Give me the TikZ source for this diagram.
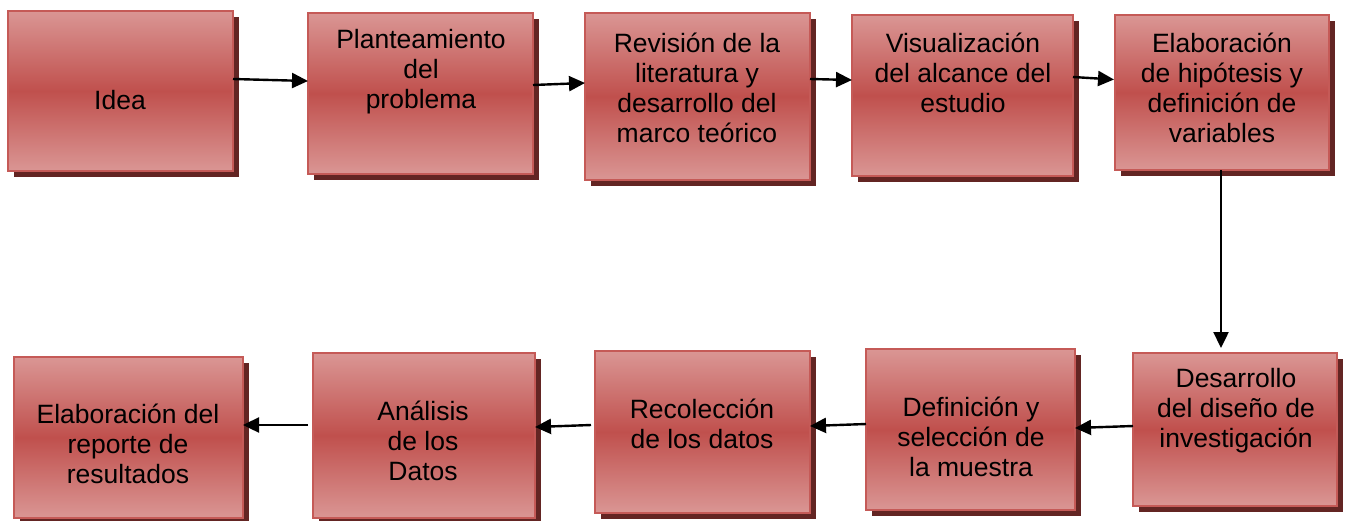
\documentclass[tikz,border=0pt]{standalone}
\usepackage{fontspec}
\setmainfont{Liberation Sans}
\usetikzlibrary{arrows.meta,shadows}
\definecolor{boxdark}{HTML}{C0504D}
\definecolor{boxlight}{HTML}{DA9694}
\definecolor{boxborder}{HTML}{C55A57}
\definecolor{boxshadow}{HTML}{632523}
\tikzset{
  stepbox/.style={draw=boxborder, line width=1.6pt, top color=boxlight, bottom color=boxlight, middle color=boxdark,
    drop shadow={shadow xshift=6pt, shadow yshift=-6pt, fill=boxshadow, opacity=1},
    inner sep=0pt, outer sep=0pt},
  txt/.style={align=center, inner sep=0pt, font=\fontsize{26.5}{30}\selectfont, text=black},
  conn/.style={line width=2.4pt, -{Triangle[length=16pt,width=15pt]}}
}
\begin{document}
\begin{tikzpicture}[x=1pt,y=-1pt]
\useasboundingbox (0,0) rectangle (1347,520);
% boxes
\node[stepbox, minimum width=225pt, minimum height=160pt] (b1) at (120.5,91) {};
\node[stepbox, minimum width=225pt, minimum height=161pt] (b2) at (420.5,93.5) {};
\node[stepbox, minimum width=225pt, minimum height=167pt] (b3) at (697.5,96.5) {};
\node[stepbox, minimum width=221pt, minimum height=161pt] (b4) at (962.5,95.5) {};
\node[stepbox, minimum width=214pt, minimum height=155pt] (b5) at (1222,92.5) {};
\node[stepbox, minimum width=204pt, minimum height=153pt] (b6) at (1235,429.5) {};
\node[stepbox, minimum width=209pt, minimum height=161pt] (b7) at (970.5,429.5) {};
\node[stepbox, minimum width=215pt, minimum height=162pt] (b8) at (702.5,432) {};
\node[stepbox, minimum width=222pt, minimum height=165pt] (b9) at (424,435.5) {};
\node[stepbox, minimum width=229pt, minimum height=161pt] (b10) at (128.5,437.5) {};
% texts
\node[txt] (t1) at (120,100) {Idea};
\node[txt] (t2) at (421,72) {Planteamiento\\del\\problema};
\node[txt] (t3) at (697,88) {Revisión de la\\literatura y\\desarrollo del\\marco teórico};
\node[txt] (t4) at (963,73) {Visualización\\del alcance del\\estudio};
\node[txt] (t5) at (1222,88) {Elaboración\\de hipótesis y\\definición de\\variables};
\node[txt] (t6) at (1236,411) {Desarrollo\\del diseño de\\investigación};
\node[txt] (t7) at (971,437) {Definición y\\selección de\\la muestra};
\node[txt] (t8) at (702,424) {Recolección\\de los datos};
\node[txt] (t9) at (423,441) {Análisis\\de los\\Datos};
\node[txt] (t10) at (128,444) {Elaboración del\\reporte de\\resultados};
% connectors
\draw[conn] ([yshift=12pt]b1.east) -- ([yshift=12.5pt]b2.west);
\draw[conn] ([yshift=8.5pt]b2.east) -- ([yshift=13.5pt]b3.west);
\draw[conn] ([yshift=17.5pt]b3.east) -- ([yshift=15.5pt]b4.west);
\draw[conn] ([yshift=18.5pt]b4.east) -- ([xshift=-1pt,yshift=13pt]b5.west);
\draw[conn] ([xshift=-1pt]b5.south) -- ([xshift=-1pt,yshift=5pt]b5.south |- b6.north);
\draw[conn] ([yshift=3.5pt]b6.west) -- ([yshift=1.5pt]b7.east);
\draw[conn] ([yshift=5.5pt]b7.west) -- ([yshift=6pt]b8.east);
\draw[conn] ([xshift=-4pt,yshift=7pt]b8.west) -- ([yshift=8.5pt]b9.east);
\draw[conn] ([xshift=-5pt,yshift=10.5pt]b9.west) -- ([yshift=12.5pt]b10.east);
\end{tikzpicture}
\end{document}
